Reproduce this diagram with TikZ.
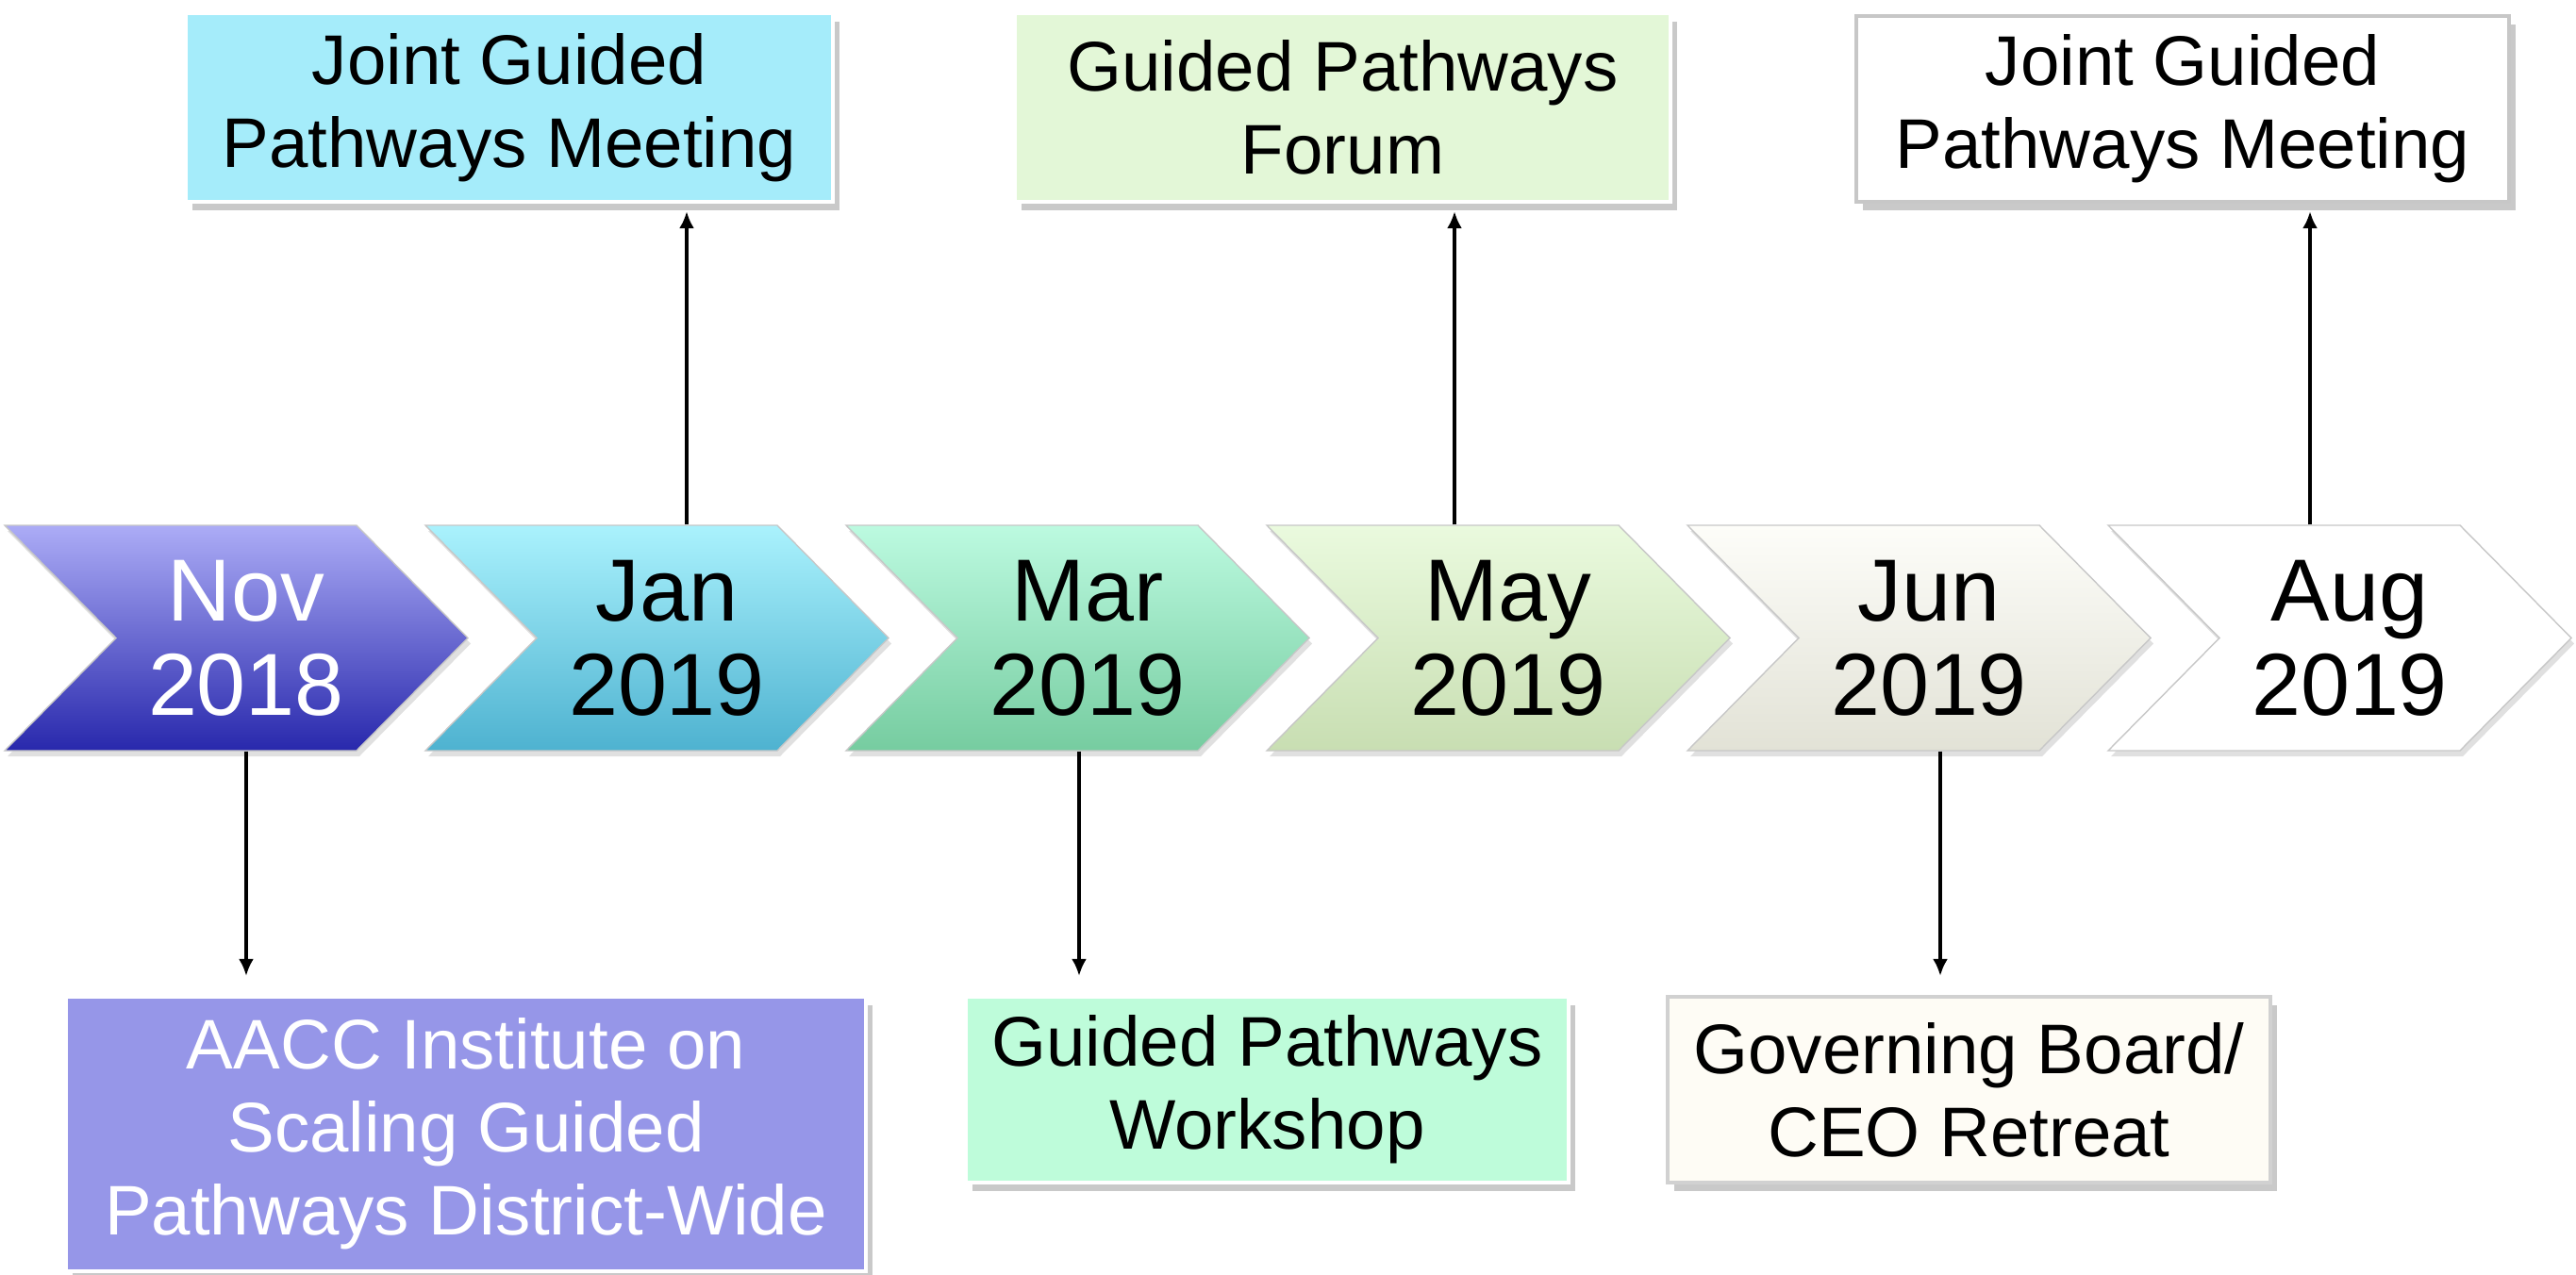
\documentclass[tikz,border=0pt]{standalone}
\usepackage{fontspec}
\setmainfont{Liberation Sans}
\usetikzlibrary{positioning, shadows, arrows.meta}
\definecolor{novtop}{RGB}{172,172,246}
\definecolor{novbot}{RGB}{40,40,172}
\definecolor{jantop}{RGB}{170,242,253}
\definecolor{janbot}{RGB}{78,178,208}
\definecolor{martop}{RGB}{188,250,224}
\definecolor{marbot}{RGB}{118,204,160}
\definecolor{maytop}{RGB}{234,250,222}
\definecolor{maybot}{RGB}{200,222,178}
\definecolor{juntop}{RGB}{253,253,249}
\definecolor{junbot}{RGB}{226,226,214}
\definecolor{augtop}{RGB}{255,255,255}
\definecolor{augbot}{RGB}{255,255,255}
\definecolor{janbox}{RGB}{165,236,250}
\definecolor{maybox}{RGB}{227,247,215}
\definecolor{novbox}{RGB}{150,150,232}
\definecolor{marbox}{RGB}{190,252,218}
\definecolor{junbox}{RGB}{254,252,245}

\begin{document}
\begin{tikzpicture}[
  chev/.style={
    font=\fontsize{26.6}{28.4}\selectfont,
    align=center,
    minimum height=2.39cm,
    inner sep=0pt,
  },
  event/.style={
    font=\fontsize{21.2}{25}\selectfont,
    align=center,
    inner sep=0pt,
    draw=white,
    line width=1.2pt,
    drop shadow={shadow xshift=0.07cm, shadow yshift=-0.09cm, opacity=0.3, fill=black!70},
  },
  link/.style={
    -{Latex[length=1.8mm, width=1.6mm]},
    line width=1.1pt,
  }
]
\useasboundingbox (0,0) rectangle (27.31,-13.51);

% chevrons of the timeline
\foreach \i/\name/\txt/\ink in {0/nov/{Nov\\2018}/white, 1/jan/{Jan\\2019}/black,
    2/mar/{Mar\\2019}/black, 3/may/{May\\2019}/black,
    4/jun/{Jun\\2019}/black, 5/aug/{Aug\\2019}/black} {
  \pgfmathsetmacro\L{0.05+4.46*\i}
  \path[top color=\name top, bottom color=\name bot, draw=black!22, line width=0.4pt,
        drop shadow={shadow xshift=0.03cm, shadow yshift=-0.06cm, opacity=0.2, fill=black!60}]
    (\L,-5.57) -- ++(3.73,0) -- ++(1.18,-1.195) -- ++(-1.18,-1.195)
    -- ++(-3.73,0) -- ++(1.18,1.195) -- cycle;
  \node[chev, text=\ink] (c\name) at ({\L+2.56},-6.765) {\txt};
}

% events above the line
\node[event, fill=janbox, minimum width=6.86cm, minimum height=2.00cm] (tjan) at (5.40,-1.14) {Joint Guided\\Pathways Meeting};
\node[event, fill=maybox, minimum width=6.95cm, minimum height=2.00cm] (tmay) at (14.235,-1.14) {Guided Pathways\\Forum};
\node[event, fill=white, draw=black!22, minimum width=6.92cm, minimum height=1.97cm] (taug) at (23.14,-1.155) {Joint Guided\\Pathways Meeting};

% events below the line
\node[event, fill=novbox, text=white, minimum width=8.48cm, minimum height=2.91cm] (bnov) at (4.94,-12.025) {AACC Institute on\\Scaling Guided\\Pathways District-Wide};
\node[event, fill=marbox, minimum width=6.39cm, minimum height=1.97cm] (bmar) at (13.435,-11.555) {Guided Pathways\\Workshop};
\node[event, fill=junbox, draw=black!18, minimum width=6.39cm, minimum height=1.97cm] (bjun) at (20.875,-11.555) {Governing Board/\\CEO Retreat};

% links
\draw[link, shorten >=0.2cm] (cnov.south) -- (cnov.south |- bnov.north);
\draw[link, shorten >=0.08cm] ([xshift=0.21cm]cjan.north) -- ([xshift=0.21cm]cjan.north |- tjan.south);
\draw[link, shorten >=0.2cm] ([xshift=-0.09cm]cmar.south) -- ([xshift=-0.09cm]cmar.south |- bmar.north);
\draw[link, shorten >=0.08cm] ([xshift=-0.57cm]cmay.north) -- ([xshift=-0.57cm]cmay.north |- tmay.south);
\draw[link, shorten >=0.2cm] ([xshift=0.12cm]cjun.south) -- ([xshift=0.12cm]cjun.south |- bjun.north);
\draw[link, shorten >=0.08cm] ([xshift=-0.42cm]caug.north) -- ([xshift=-0.42cm]caug.north |- taug.south);

\end{tikzpicture}
\end{document}
